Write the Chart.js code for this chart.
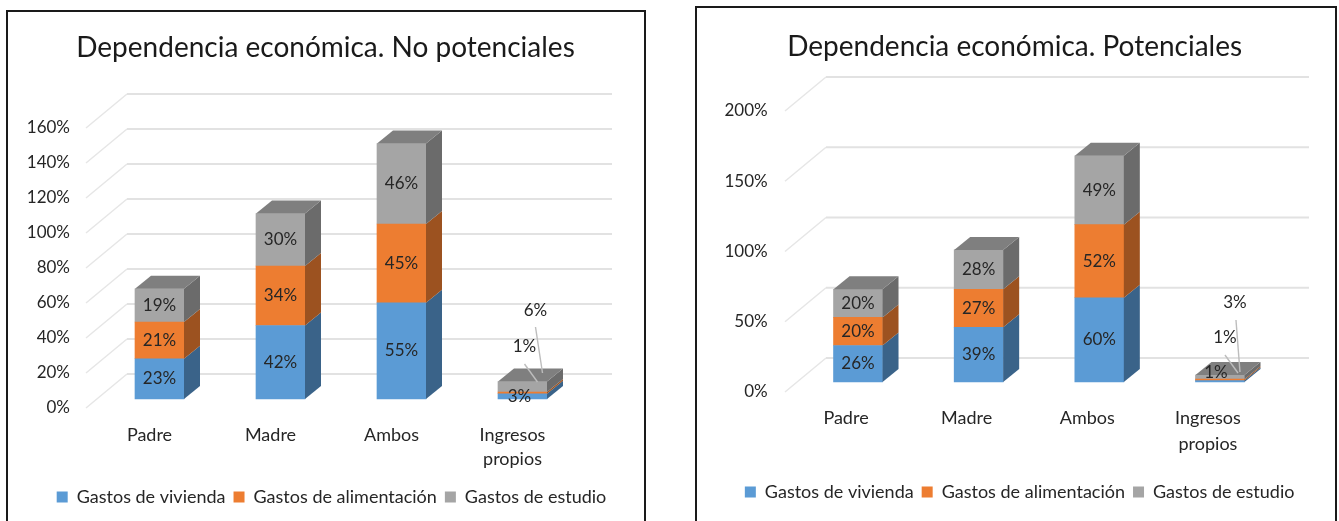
<!DOCTYPE html>
<html><head><meta charset="utf-8">
<style>
html,body{margin:0;padding:0;background:#fff;width:1339px;height:521px;overflow:hidden}
.frame{position:absolute;border:2px solid #1a1a1a;box-sizing:border-box;background:#fff}
canvas{position:absolute;top:0}
</style>
<script src="https://cdn.jsdelivr.net/npm/chart.js@4"></script>
</head><body>
<div class="frame" style="left:6px;top:10px;width:640px;height:530px"></div>
<div class="frame" style="left:695px;top:6px;width:642px;height:530px"></div>
<div style="position:absolute;left:0;top:0;width:660px;height:521px"><canvas id="c1" style="left:0"></canvas></div>
<div style="position:absolute;left:670px;top:0;width:669px;height:521px"><canvas id="c2" style="left:0"></canvas></div>
<script>
const categories = ['Padre', 'Madre', 'Ambos', ['Ingresos', 'propios']];
const seriesNames = ['Gastos de vivienda', 'Gastos de alimentación', 'Gastos de estudio'];

const noPotencialesVivienda = [23, 42, 55, 3];
const noPotencialesAlimentacion = [21, 34, 45, 1];
const noPotencialesEstudio = [19, 30, 46, 6];

const potencialesVivienda = [26, 39, 60, 1];
const potencialesAlimentacion = [20, 27, 52, 1];
const potencialesEstudio = [20, 28, 49, 3];

const frontColors = ['#5b9bd5', '#ed7d31', '#a5a5a5'];
const sideColors = ['#3a6389', '#9c5220', '#6b6b6b'];
const topColor = '#7f7f7f';
const FONT = 'Lato, Carlito, sans-serif';
const INK = '#262626';

function percent(v){ return v + '%'; }

const depth3d = {
  id: 'depth3d',
  afterLayout(chart, args, o) {
    if (chart.legend) { chart.legend.left += o.legendShift; chart.legend.right += o.legendShift; chart.legend.top = o.legendTop; chart.legend.bottom = o.legendTop + chart.legend.height; }
    if (chart.titleBlock) { chart.titleBlock.left += o.titleShift; chart.titleBlock.right += o.titleShift; }
  },
  beforeDatasetsDraw(chart, args, o) {
    const c = chart.ctx, wall = chart.scales.y;
    c.save();
    c.lineCap = 'butt';
    wall.ticks.forEach(t => {
      const y = wall.getPixelForValue(t.value);
      const x0 = chart.chartArea.left + o.wallLeft;
      c.strokeStyle = '#e6e6e6'; c.lineWidth = 1.5;
      c.beginPath(); c.moveTo(x0, y); c.lineTo(x0 + o.wallDx, y - o.wallDy); c.stroke();
      c.strokeStyle = '#e2e2e2'; c.lineWidth = 2.2;
      c.beginPath(); c.moveTo(x0 + o.wallDx, y - o.wallDy); c.lineTo(o.wallEnd, y - o.wallDy); c.stroke();
    });
    c.restore();
  },
  afterDatasetsDraw(chart, args, o) {
    const c = chart.ctx, n = chart.data.datasets.length;
    c.save();
    for (let d = 0; d < n; d++) {
      chart.getDatasetMeta(d).data.forEach(b => {
        const r = b.x + b.width / 2, l = b.x - b.width / 2;
        c.fillStyle = sideColors[d];
        c.beginPath();
        c.moveTo(r, b.y); c.lineTo(r + o.dx, b.y - o.dy); c.lineTo(r + o.dx, b.base - o.dy); c.lineTo(r, b.base);
        c.closePath(); c.fill();
        if (d === n - 1) {
          c.fillStyle = topColor;
          c.beginPath();
          c.moveTo(l, b.y); c.lineTo(l + o.dx, b.y - o.dy); c.lineTo(r + o.dx, b.y - o.dy); c.lineTo(r, b.y);
          c.closePath(); c.fill();
        }
      });
    }
    // leader lines of the small last-category labels
    const last = chart.getDatasetMeta(0).data[3];
    c.strokeStyle = '#bdbdbd'; c.lineWidth = 1.4;
    o.leaders.forEach(s => {
      c.beginPath(); c.moveTo(last.x + s[0], last.base + s[1]); c.lineTo(last.x + s[2], last.base + s[3]); c.stroke();
    });
    // value labels
    c.font = '17px ' + FONT; c.fillStyle = INK; c.textAlign = 'center'; c.textBaseline = 'middle';
    for (let d = 0; d < n; d++) {
      const vals = chart.data.datasets[d].data;
      chart.getDatasetMeta(d).data.forEach((b, i) => {
        if (i === 3) {
          const off = o.lastOffsets[d];
          c.fillText(percent(vals[i]), b.x + off[0], last.base + off[1]);
        } else {
          c.fillText(percent(vals[i]), b.x, (b.y + b.base) / 2);
        }
      });
    }
    c.restore();
  }
};

function makeChart(id, w, titleText, series, cfg) {
  const canvas = document.getElementById(id);
  canvas.width = w; canvas.height = 521;
  canvas.style.width = w + 'px'; canvas.style.height = '521px';
  const lh = cfg.titleSize * 1.2;
  const pTop = cfg.titleY - lh / 2;
  return new Chart(canvas, {
    type: 'bar',
    plugins: [depth3d],
    data: {
      labels: categories,
      datasets: series.map((vals, i) => ({
        label: seriesNames[i], data: vals, backgroundColor: frontColors[i],
        yAxisID: 'yBars', barThickness: cfg.barW, borderWidth: 0
      }))
    },
    options: {
      responsive: false, animation: false,
      layout: { padding: { left: 0, top: 0, right: w - cfg.areaRight, bottom: 0 } },
      scales: {
        x: {
          stacked: true,
          grid: { display: false }, border: { display: false },
          ticks: { font: { family: FONT, size: 18, lineHeight: cfg.catLine }, color: INK, labelOffset: cfg.catShift, padding: cfg.catPad, maxRotation: 0, autoSkip: false },
          afterFit(s) { s.height = cfg.bottomGap - (s.chart.legend ? s.chart.legend.height : 0); }
        },
        y: {
          position: 'left', min: 0, max: cfg.yMax,
          grid: { display: false }, border: { display: false },
          ticks: { stepSize: cfg.yStep, callback: percent, font: { family: FONT, size: 17 }, color: INK, padding: cfg.tickPad },
          afterFit(s) { s.width = cfg.areaLeft; }
        },
        yBars: { display: false, stacked: true, min: cfg.barMin, max: cfg.barMax }
      },
      plugins: {
        title: { display: true, text: titleText, color: '#1a1a1a', font: { family: FONT, size: cfg.titleSize, weight: 'normal', lineHeight: 1.2 }, padding: { top: pTop, bottom: cfg.areaTop - pTop - lh } },
        legend: { display: true, position: 'bottom', labels: { font: { family: FONT, size: 18 }, color: INK, boxWidth: 11, boxHeight: 11, padding: 8 } },
        tooltip: { enabled: false },
        depth3d: cfg.plugin
      }
    }
  });
}

makeChart('c1', 660, 'Dependencia económica. No potenciales',
  [noPotencialesVivienda, noPotencialesAlimentacion, noPotencialesEstudio], {
  titleSize: 28, titleY: 48, areaTop: 128, bottomGap: 113, areaLeft: 99, areaRight: 583, barW: 49,
  yMax: 160, yStep: 20, tickPad: 21, barMin: -5.143, barMax: 154.857, catShift: -10, catPad: 7, catLine: 1.35,
  plugin: { dx: 16, dy: 13, wallLeft: -13, wallDx: 41, wallDy: 34, wallEnd: 612, legendShift: 40, legendTop: 480, titleShift: 34,
    lastOffsets: [[-3, -2], [2, -52], [13, -88]],
    leaders: [[13, -72, 20, -26], [2, -35, 15, -17]] }
});

makeChart('c2', 669, 'Dependencia económica. Potenciales',
  [potencialesVivienda, potencialesAlimentacion, potencialesEstudio], {
  titleSize: 28, titleY: 47, areaTop: 111, bottomGap: 129, areaLeft: 127.7, areaRight: 610.3, barW: 49,
  yMax: 200, yStep: 50, tickPad: 22, barMin: -7.117, barMax: 192.9, catShift: -12, catPad: 5, catLine: 1.45,
  plugin: { dx: 16, dy: 13, wallLeft: -12.7, wallDx: 41, wallDy: 34, wallEnd: 639, legendShift: 44.5, legendTop: 475, titleShift: 39.5,
    lastOffsets: [[-4, -9], [5, -44], [15, -79]],
    leaders: [[16, -62, 20, -10], [5, -27, 18, -9]] }
});
</script>
</body></html>
